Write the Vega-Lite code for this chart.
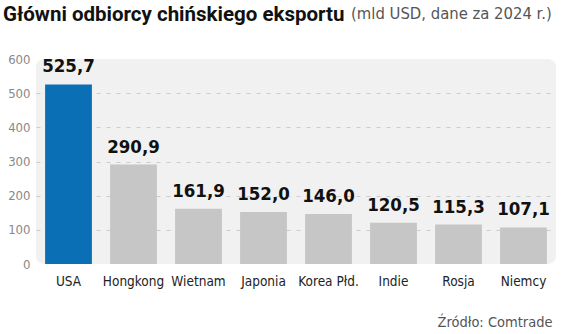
{
  "$schema": "https://vega.github.io/schema/vega-lite/v6.json",
  "autosize": "none",
  "width": 520,
  "height": 205,
  "padding": {"left": 36, "top": 59, "right": 8, "bottom": 70},
  "background": "#ffffff",
  "config": {
    "locale": {"number": {"decimal": ",", "thousands": " ", "grouping": [3], "currency": ["", " zł"]}},
    "view": {"fill": "#f1f1f1", "stroke": null, "cornerRadius": 8},
    "font": "DejaVu Sans Condensed"
  },
  "title": {
    "text": "Główni odbiorcy chińskiego eksportu",
    "subtitle": "\u2800\u2800\u2800\u2800\u2800\u2800\u2800\u2800\u2800\u2800\u2800\u2800\u2800\u2800\u2800\u2800\u2800\u2800\u2800\u2800\u2800\u2800\u2800\u2800\u2800\u2800\u2800\u2800\u2800\u2800\u2800\u2800(mld USD, dane za 2024 r.)",
    "anchor": "start",
    "frame": "group",
    "dx": -33,
    "offset": 28,
    "font": "Roboto",
    "fontSize": 20.5,
    "fontWeight": "bold",
    "color": "#111111",
    "subtitleFont": "DejaVu Sans Condensed",
    "subtitleFontSize": 16.5,
    "subtitleColor": "#555555",
    "subtitlePadding": -19
  },
  "data": {
    "values": [
      {"kraj": "USA", "wartosc": 525.7},
      {"kraj": "Hongkong", "wartosc": 290.9},
      {"kraj": "Wietnam", "wartosc": 161.9},
      {"kraj": "Japonia", "wartosc": 152.0},
      {"kraj": "Korea Płd.", "wartosc": 146.0},
      {"kraj": "Indie", "wartosc": 120.5},
      {"kraj": "Rosja", "wartosc": 115.3},
      {"kraj": "Niemcy", "wartosc": 107.1}
    ]
  },
  "encoding": {
    "x": {
      "field": "kraj",
      "type": "nominal",
      "sort": null,
      "scale": {"paddingInner": 0.28, "paddingOuter": 0.14},
      "axis": {
        "title": "Źródło: Comtrade",
        "titleAnchor": "end",
        "titleFont": "DejaVu Sans Condensed",
        "titleFontSize": 14.5,
        "titleFontWeight": "normal",
        "titleColor": "#555555",
        "titlePadding": 28,
        "titleX": 516,
        "labelAngle": 0,
        "labelFontSize": 13.5,
        "labelColor": "#222222",
        "labelPadding": 10,
        "ticks": false,
        "domain": false
      }
    },
    "y": {
      "field": "wartosc",
      "type": "quantitative",
      "scale": {"domain": [0, 600], "nice": false},
      "axis": {
        "title": null,
        "values": [0, 100, 200, 300, 400, 500, 600],
        "labelFontSize": 13,
        "labelColor": "#888888",
        "labelPadding": 6,
        "ticks": false,
        "domain": false,
        "gridColor": "#cccccc",
        "gridDash": [4, 6],
        "gridOpacity": {"condition": {"test": "datum.value == 0 || datum.value == 600", "value": 0}, "value": 1}
      }
    }
  },
  "layer": [
    {
      "mark": {"type": "bar"},
      "encoding": {
        "color": {
          "condition": {"test": "datum.kraj == 'USA'", "value": "#0a6fb5"},
          "value": "#c6c6c6"
        }
      }
    },
    {
      "mark": {"type": "text", "baseline": "bottom", "dy": -8, "fontSize": 18.5, "fontWeight": "bold", "color": "#111111", "font": "DejaVu Sans Condensed"},
      "encoding": {
        "text": {"field": "wartosc", "type": "quantitative", "format": ".1f"}
      }
    }
  ]
}
